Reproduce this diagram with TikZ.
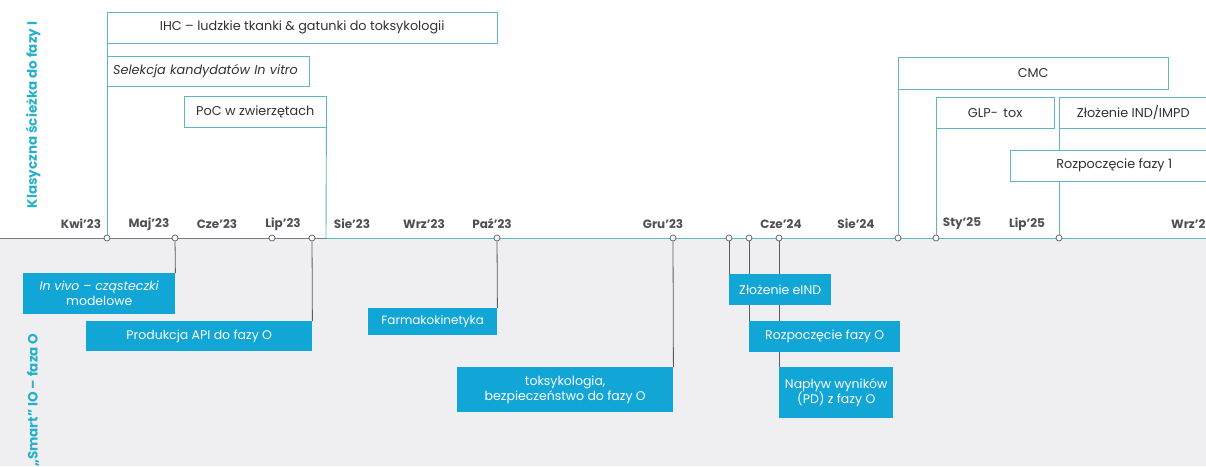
\documentclass[tikz,border=0pt]{standalone}
\usepackage{fontspec}
\setmainfont{Poppins}
\usetikzlibrary{positioning,backgrounds}

\definecolor{boxblue}{RGB}{18,166,214}
\definecolor{lineteal}{RGB}{96,182,198}
\definecolor{laneteal}{RGB}{38,176,202}
\definecolor{bggray}{RGB}{239,239,241}
\definecolor{axisgray}{RGB}{120,128,134}
\definecolor{stemgray}{RGB}{88,94,100}
\definecolor{textgray}{RGB}{50,50,52}
\definecolor{monthgray}{RGB}{78,80,84}

\begin{document}
\begin{tikzpicture}[x=1pt,y=-1pt,
    topbox/.style={draw=lineteal, fill=white, text=textgray, inner sep=0pt,
        anchor=north west, font=\fontsize{12.8}{15}\selectfont},
    botbox/.style={fill=boxblue, text=white, inner sep=0pt, align=center,
        anchor=north west, font=\fontsize{12.5}{15}\selectfont},
    month/.style={text=monthgray, font=\bfseries\fontsize{12}{14}\selectfont},
    dot/.style={circle, draw=stemgray, fill=white, minimum size=6pt,
        inner sep=0pt, line width=0.7pt},
    upline/.style={lineteal, line width=0.9pt},
    downline/.style={stemgray, line width=0.8pt},
    lane/.style={rotate=90, text=laneteal, font=\bfseries\fontsize{13.5}{16}\selectfont}]

    \useasboundingbox (0,0) rectangle (1206,466);
    \clip (0,0) rectangle (1206,466);

    % lanes
    \node[lane] (klasyczna) at (33,115) {Klasyczna ścieżka do fazy I};
    \node[lane, anchor=east] (smart) at (33,330) {„Smart” IO – faza O};

    % months
    \node[month] (kwi23) at (81,224) {Kwi’23};
    \node[month] (maj23) at (149,224) {Maj’23};
    \node[month] (cze23) at (217,224) {Cze’23};
    \node[month] (lip23) at (283,224) {Lip’23};
    \node[month] (sie23) at (352,224) {Sie’23};
    \node[month] (wrz23) at (424,224) {Wrz’23};
    \node[month] (paz23) at (492,224) {Paź’23};
    \node[month] (gru23) at (663,224) {Gru’23};
    \node[month] (cze24) at (781,224) {Cze’24};
    \node[month] (sie24) at (856,224) {Sie’24};
    \node[month] (sty25) at (962,224) {Sty’25};
    \node[month] (lip25) at (1027,224) {Lip’25};
    \node[month, anchor=west, inner xsep=0pt] (wrz25) at (1171,224) {Wrz’25};

    % classic path boxes
    \node[topbox, minimum width=390pt, minimum height=31pt] (ihc) at (107,12)
        {IHC – ludzkie tkanki \& gatunki do toksykologii};
    \node[topbox, text width=190pt, inner xsep=6pt, minimum height=30pt, align=left,
        font=\itshape\fontsize{12.8}{15}\selectfont] (selekcja) at (107,56)
        {Selekcja kandydatów In vitro};
    \node[topbox, minimum width=142pt, minimum height=31pt] (poc) at (184,96)
        {PoC w zwierzętach};
    \node[topbox, minimum width=270pt, minimum height=32pt] (cmc) at (898,57) {CMC};
    \node[topbox, minimum width=118pt, minimum height=31pt] (glp) at (936,97) {GLP- \,tox};
    \node[topbox, minimum width=148pt, minimum height=31pt] (ind) at (1059,97)
        {Złożenie IND/IMPD};
    \node[topbox, minimum width=208pt, minimum height=31pt] (faza1) at (1010,150)
        {Rozpoczęcie fazy 1};

    % smart path boxes
    \node[botbox, minimum width=152pt, minimum height=41pt] (vivo) at (23,273)
        {\textit{In vivo – cząsteczki}\\modelowe};
    \node[botbox, minimum width=226pt, minimum height=30pt] (api) at (86,321)
        {Produkcja API do fazy O};
    \node[botbox, minimum width=129pt, minimum height=27pt,
        font=\fontsize{12}{14}\selectfont] (pk) at (368,308)
        {Farmakokinetyka};
    \node[botbox, minimum width=216pt, minimum height=45pt] (tox) at (457,367)
        {toksykologia,\\bezpieczeństwo do fazy O};
    \node[botbox, minimum width=102pt, minimum height=31pt] (eind) at (729,274)
        {Złożenie eIND};
    \node[botbox, minimum width=151pt, minimum height=31pt] (faza0) at (749,321)
        {Rozpoczęcie fazy O};
    \node[botbox, minimum width=114pt, minimum height=51pt] (naplyw) at (779,367)
        {Napływ wyników\\(PD) z fazy O};

    % axis markers
    \node[dot] (dkwi) at (107,238) {};
    \node[dot] (dmaj) at (175,238) {};
    \node[dot] (dlip) at (272,238) {};
    \node[dot] (dapi) at (312,238) {};
    \node[dot] (dpaz) at (497,238) {};
    \node[dot] (dgru) at (673,238) {};
    \node[dot] (deind) at (729,238) {};
    \node[dot] (dfaza0) at (749,238) {};
    \node[dot] (dcze) at (779,238) {};
    \node[dot] (dcmc) at (898,238) {};
    \node[dot] (dglp) at (936,238) {};
    \node[dot] (dind) at (1059,238) {};
    \coordinate (pocend) at (326,238);

    \begin{pgfonlayer}{background}
    \fill[bggray] (0,238) rectangle (1206,466);
    \draw[axisgray, line width=0.9pt] (0,238) -- (pocend);
    \draw[lineteal, line width=0.9pt] (pocend) -- (1206,238);

    \draw[upline] (dkwi) -- (ihc.north west);
    \draw[upline] (poc.south east) -- (pocend);
    \draw[upline] (dcmc) -- (cmc.south west);
    \draw[upline] (dglp) -- (glp.south west);
    \draw[upline] (dind) -- (ind.south west);

    \draw[downline] (dmaj) -- (vivo.north east);
    \draw[downline] (dapi) -- (api.north east);
    \draw[downline] (dpaz) -- (pk.north east);
    \draw[downline] (dgru) -- (tox.north east);
    \draw[downline] (deind) -- (eind.north west);
    \draw[downline] (dfaza0) -- (faza0.north west);
    \draw[downline] (dcze) -- (naplyw.north west);
    \end{pgfonlayer}

\end{tikzpicture}
\end{document}
